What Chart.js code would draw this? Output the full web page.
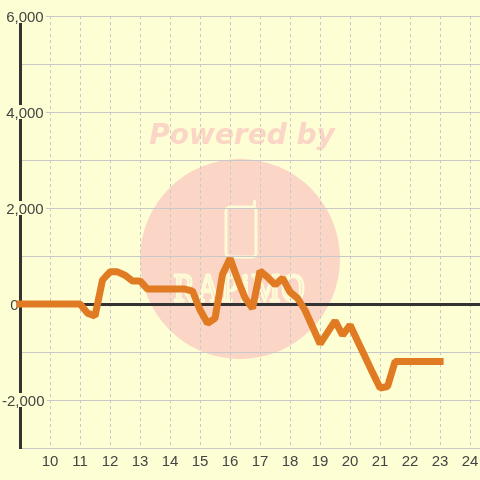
<!DOCTYPE html>
<html>
<head>
<meta charset="utf-8">
<script src="https://cdn.jsdelivr.net/npm/chart.js@4"></script>
<style>
    html, body { margin: 0; padding: 0; background: #fdfed4; }
    canvas { display: block; }
</style>
</head>
<body>
<canvas id="balance-chart" width="480" height="480"></canvas>
<script>
const hours = [9, 11, 11.25, 11.5, 11.75, 12, 12.25, 12.5, 12.75, 13, 13.25, 13.5, 14, 14.5, 14.75, 15, 15.25, 15.5, 15.75, 16, 16.25, 16.5, 16.75, 17, 17.25, 17.5, 17.75, 18, 18.25, 18.5, 18.75, 19, 19.25, 19.5, 19.75, 20, 20.25, 20.5, 20.75, 21, 21.25, 21.5, 22, 23];
const balance = [0, 0, -190, -250, 500, 670, 670, 600, 480, 480, 310, 310, 310, 310, 270, -125, -400, -300, 620, 950, 520, 125, -90, 690, 560, 400, 540, 250, 120, -130, -480, -830, -590, -350, -650, -440, -770, -1100, -1430, -1750, -1720, -1200, -1200, -1200];
const xTicks = [10, 11, 12, 13, 14, 15, 16, 17, 18, 19, 20, 21, 22, 23, 24];
const yTicks = [-3000, -2000, -1000, 0, 1000, 2000, 3000, 4000, 5000, 6000];
// labels are left aligned (mirror), leading spaces line them up like the original
const yLabels = { '-2000': '-2,000', '0': '  0', '2000': ' 2,000', '4000': ' 4,000', '6000': ' 6,000' };

const INK = '#333333';
const GRID = '#c8c8c8';
const PAPER = '#fdfed4';
const CREAM = '#fdfbd6';

// background and watermark go under the grid
const watermarkPlugin = {
    id: 'watermark',
    beforeDraw(chart) {
        const ctx = chart.ctx;
        ctx.save();
        ctx.fillStyle = PAPER;
        ctx.fillRect(0, 0, chart.width, chart.height);

        ctx.fillStyle = '#fbd5c5';
        ctx.beginPath();
        ctx.arc(240, 259, 100, 0, Math.PI * 2);
        ctx.fill();

        ctx.font = 'italic bold 28px "DejaVu Sans"';
        ctx.textAlign = 'center';
        ctx.textBaseline = 'middle';
        ctx.fillText('Powered by', 242, 137);

        ctx.strokeStyle = CREAM;
        ctx.lineWidth = 3;
        ctx.lineJoin = 'round';
        ctx.lineCap = 'round';
        ctx.beginPath();
        ctx.roundRect(226, 207, 30, 50, 4);
        ctx.moveTo(254.5, 207);
        ctx.lineTo(254.5, 201);
        ctx.stroke();

        ctx.translate(240, 290);
        ctx.scale(0.8, 1);
        ctx.lineWidth = 3;
        ctx.font = '40px "Liberation Sans Narrow"';
        ctx.letterSpacing = '2px';
        ctx.strokeText('RAPiMO', 0, 0);
        ctx.restore();
    }
};

function setTicks(values) {
    return scale => {
        scale.ticks = values.map(value => ({ value }));
    };
}

new Chart(document.getElementById('balance-chart').getContext('2d'), {
    type: 'line',
    data: {
        datasets: [{
            data: hours.map((h, i) => ({ x: h, y: balance[i] })),
            borderColor: '#e07b24',
            borderWidth: 7,
            borderJoinStyle: 'bevel',
            borderCapStyle: 'square',
            tension: 0,
            pointRadius: 0,
            clip: false,
        }]
    },
    options: {
        responsive: false,
        animation: false,
        layout: { padding: { top: 16 } },
        plugins: { legend: { display: false }, tooltip: { enabled: false } },
        scales: {
            x: {
                type: 'linear',
                min: 9,
                max: 24.33,
                afterBuildTicks: setTicks(xTicks),
                afterFit: scale => {
                    scale.height = 32;
                    scale.paddingLeft = 0;
                    scale.paddingRight = 0;
                },
                border: { display: false, dash: [3, 3] },
                grid: { color: GRID, lineWidth: 1, drawTicks: false },
                ticks: {
                    color: '#444444',
                    font: { family: '"Liberation Sans"', size: 15 },
                    padding: 5,
                    autoSkip: false,
                    maxRotation: 0,
                    callback: value => String(value),
                },
            },
            y: {
                type: 'linear',
                min: -3000,
                max: 6000,
                afterBuildTicks: setTicks(yTicks),
                afterFit: scale => {
                    scale.width = 20;
                    scale.paddingTop = 0;
                    scale.paddingBottom = 0;
                },
                border: { color: INK, width: 3 },
                grid: {
                    color: ctx => ctx.tick && ctx.tick.value === 0 ? INK : GRID,
                    lineWidth: ctx => ctx.tick && ctx.tick.value === 0 ? 3 : 1,
                    drawTicks: false,
                },
                ticks: {
                    mirror: true,
                    color: '#444444',
                    // two lines with a 4px line height push the text 2px down
                    font: { family: '"Liberation Sans"', size: 15, lineHeight: '4px' },
                    padding: -18,
                    autoSkip: false,
                    callback: value => yLabels[value] ? ['', yLabels[value]] : '',
                    showLabelBackdrop: ctx => ctx.tick.value !== 0 && !!yLabels[ctx.tick.value],
                    backdropColor: PAPER,
                    backdropPadding: { top: 1, bottom: 5, left: 0, right: 2 },
                },
            },
        },
    },
    plugins: [watermarkPlugin],
});
</script>
</body>
</html>
